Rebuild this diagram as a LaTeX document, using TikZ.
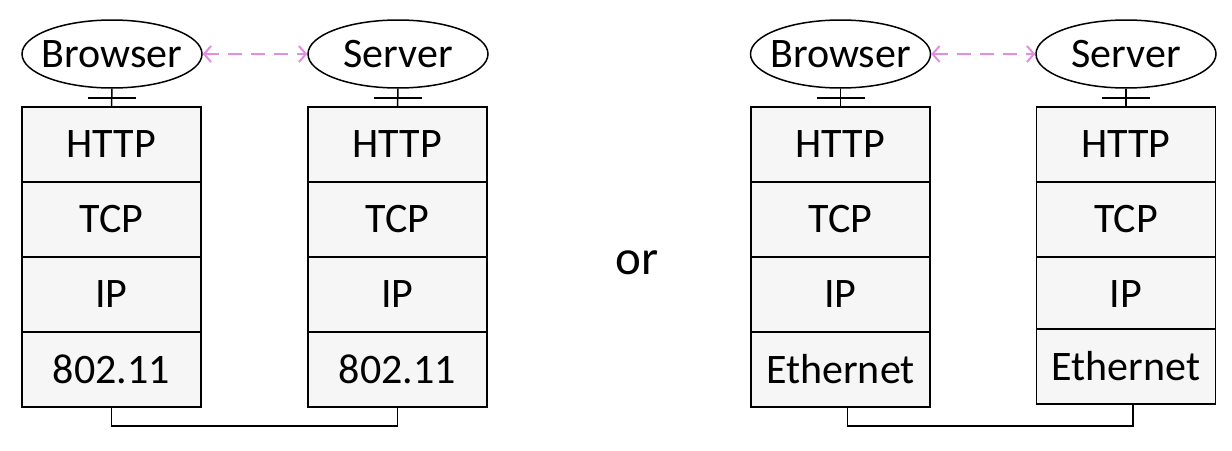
\documentclass[tikz,border=0pt]{standalone}
\usepackage{fontspec}
\setmainfont{Carlito}
\usetikzlibrary{positioning,shapes.geometric,arrows.meta}

\definecolor{linkpink}{RGB}{228,140,226}

\tikzset{
    layer/.style={draw, fill=gray!7, line width=1.6pt, minimum width=179pt, minimum height=75pt,
        inner sep=0pt, outer sep=0pt, font=\fontsize{42}{50}\selectfont},
    app/.style={draw, ellipse, line width=1.5pt, minimum width=180pt, minimum height=68pt,
        inner sep=-7pt, font=\fontsize{42}{50}\selectfont},
    link/.style={{Straight Barb[length=7pt,width=16pt]}-{Straight Barb[length=7pt,width=16pt]},
        linkpink, line width=2pt, dash pattern=on 14pt off 9pt},
    wire/.style={line width=1.5pt}
}

\begin{document}
\begin{tikzpicture}[x=1pt,y=-1pt]
    \useasboundingbox (0,0) rectangle (1232,450);
    % left pair
    \node[app] (ba) at (112,54) {Browser};
    \node[app] (sa) at (398,54) {Server};
    \draw[link] (ba) -- (sa);
    \node[layer] (a1) at (111.5,144.5) {HTTP};
    \node[layer, below=0pt of a1] (a2) {TCP};
    \node[layer, below=0pt of a2] (a3) {IP};
    \node[layer, below=0pt of a3] (a4) {802.11};
    \node[layer] (b1) at (397.5,144.5) {HTTP};
    \node[layer, below=0pt of b1] (b2) {TCP};
    \node[layer, below=0pt of b2] (b3) {IP};
    \node[layer, below=0pt of b3] (b4) {802.11};
    \draw[wire] (ba.south) -- (a1.north) coordinate[midway] (ta);
    \draw[wire] ([xshift=-24pt]ta) -- ([xshift=24pt]ta);
    \draw[wire] (sa.south) -- (b1.north) coordinate[midway] (tb);
    \draw[wire] ([xshift=-24pt]tb) -- ([xshift=24pt]tb);
    \draw[wire] (a4.south) -- ++(0,19) -| (b4.south);

    \node[font=\fontsize{49}{58}\selectfont] (or) at (637,263) {or};

    % right pair
    \node[app] (bc) at (840.5,54) {Browser};
    \node[app] (sd) at (1126,54) {Server};
    \draw[link] (bc) -- (sd);
    \node[layer] (c1) at (840.5,144.5) {HTTP};
    \node[layer, below=0pt of c1] (c2) {TCP};
    \node[layer, below=0pt of c2] (c3) {IP};
    \node[layer, below=0pt of c3] (c4) {Ethernet};
    \node[layer] (d1) at (1126,144.5) {HTTP};
    \node[layer, below=0pt of d1] (d2) {TCP};
    \node[layer, below=0pt of d2] (d3) {IP};
    \node[layer, below=-3pt of d3] (d4) {Ethernet};
    \draw[wire] (bc.south) -- (c1.north) coordinate[midway] (tc);
    \draw[wire] ([xshift=-24pt]tc) -- ([xshift=24pt]tc);
    \draw[wire] (sd.south) -- (d1.north) coordinate[midway] (td);
    \draw[wire] ([xshift=-24pt]td) -- ([xshift=24pt]td);
    \draw[wire] ([xshift=7pt]c4.south) -- ++(0,19) -| ([xshift=7pt]d4.south);
\end{tikzpicture}
\end{document}
